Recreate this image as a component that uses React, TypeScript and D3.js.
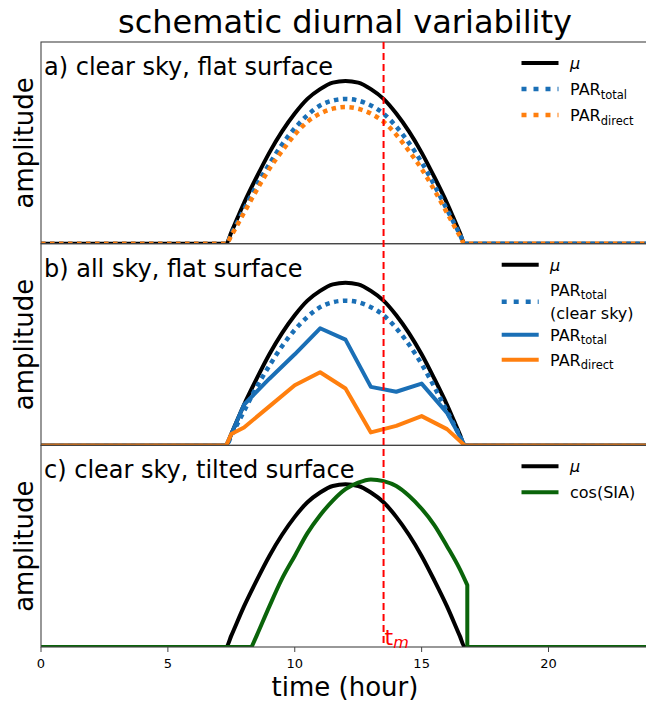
import React from "react";
import * as d3 from "d3";

// time axis (hours) for the smooth clear-sky curves
const hours = [0, 7.3, 7.5, 8, 8.5, 9, 9.5, 10, 10.5, 11, 11.5, 12, 12.5, 13, 13.5, 14, 14.5, 15, 15.5, 16, 16.5, 16.7, 24];
const mu = [0, 0, 0.07, 0.25, 0.41, 0.56, 0.69, 0.8, 0.89, 0.95, 0.99, 1.0, 0.99, 0.95, 0.89, 0.8, 0.69, 0.56, 0.41, 0.25, 0.07, 0, 0];
const parTotalClear = [0, 0, 0.06, 0.21, 0.36, 0.49, 0.61, 0.71, 0.79, 0.85, 0.88, 0.89, 0.88, 0.85, 0.8, 0.72, 0.62, 0.5, 0.36, 0.21, 0.06, 0, 0];
const parDirectClear = [0, 0, 0.05, 0.19, 0.33, 0.46, 0.57, 0.67, 0.75, 0.8, 0.83, 0.84, 0.83, 0.8, 0.75, 0.67, 0.57, 0.46, 0.33, 0.19, 0.05, 0, 0];

// all-sky (hourly) values
const hoursAll = [0, 7.3, 7.5, 8, 9, 10, 11, 12, 13, 14, 15, 16, 16.7, 24];
const parTotalAll = [0, 0, 0.07, 0.25, 0.41, 0.56, 0.72, 0.65, 0.36, 0.33, 0.38, 0.2, 0, 0];
const parDirectAll = [0, 0, 0.07, 0.11, 0.24, 0.37, 0.45, 0.35, 0.08, 0.12, 0.18, 0.1, 0, 0];

// tilted surface, cosine of the solar incidence angle (daytime part)
const siaHours = [8.3, 8.5, 9, 9.5, 10, 10.5, 11, 11.5, 12, 12.5, 13, 13.5, 14, 14.5, 15, 15.5, 16, 16.5, 16.8];
const cosSia = [0, 0.07, 0.25, 0.42, 0.56, 0.7, 0.81, 0.9, 0.97, 1.01, 1.03, 1.02, 0.99, 0.93, 0.85, 0.75, 0.62, 0.48, 0.38];

const xTicks = [0, 5, 10, 15, 20];
const tMarker = 13.5;
const panelTitles = ["a) clear sky, flat surface", "b) all sky, flat surface", "c) clear sky, tilted surface"];

const BLUE = "#1a6fb6";
const ORANGE = "#ff7f0e";
const GREEN = "#0a640a";
const FONT = "DejaVu Sans";

const W = 646;
const H = 703;

export default function App() {
  const x = d3.scaleLinear().domain([0, 24]).range([41, 650]);
  const tops = [42, 243.7, 445.3];
  const ph = 201.7;
  const ys = tops.map((t) => d3.scaleLinear().domain([0, 1.24]).range([t + ph, t]));

  const smooth = (ts: number[], vs: number[], y: d3.ScaleLinear<number, number>) =>
    d3.line<number>().x((_, i) => x(ts[i])).y((d) => y(d)).curve(d3.curveMonotoneX)(vs) as string;
  const linear = (ts: number[], vs: number[], y: d3.ScaleLinear<number, number>) =>
    d3.line<number>().x((_, i) => x(ts[i])).y((d) => y(d))(vs) as string;

  const yc = ys[2];
  const siaArc = smooth(siaHours, cosSia, yc);
  const siaPath =
    `M${x(0)},${yc(0)}L` + siaArc.slice(1) +
    `L${x(siaHours[siaHours.length - 1])},${yc(0)}L${x(24)},${yc(0)}`;

  const dotted = "4.5,4.5";

  const legendRow = (key: string, lx: number, ly: number, color: string, dash: string | undefined, label: React.ReactNode) => (
    <g key={key}>
      <line x1={lx} x2={lx + 37} y1={ly} y2={ly} stroke={color} strokeWidth={dash ? 4.5 : 4} strokeDasharray={dash} />
      {label}
    </g>
  );
  const sub = (main: string, s: string, tx: number, ty: number) => (
    <text x={tx} y={ty} fontSize={16} fontFamily={FONT} fill="#000">
      {main}
      <tspan fontSize={11.5} dy={3.5}>{s}</tspan>
    </text>
  );
  const muLabel = (tx: number, ty: number) => (
    <text x={tx} y={ty} fontSize={16} fontFamily={FONT} fontStyle="italic" fill="#000">μ</text>
  );

  return (
    <svg width={W} height={H} style={{ position: "absolute", left: 0, top: 0, background: "#fff" }}>
      <defs>
        {tops.map((t, i) => (
          <clipPath id={`clip${i}`} key={i}>
            <rect x={x(0)} y={t} width={x(24) - x(0)} height={ph} />
          </clipPath>
        ))}
      </defs>

      <text x={345} y={33} textAnchor="middle" fontSize={32} fontFamily={FONT} fill="#000">
        schematic diurnal variability
      </text>

      {/* panel a */}
      <g clipPath="url(#clip0)" fill="none">
        <path d={smooth(hours, mu, ys[0])} stroke="#000" strokeWidth={4} />
        <path d={smooth(hours, parTotalClear, ys[0])} stroke={BLUE} strokeWidth={4.5} strokeDasharray={dotted} />
        <path d={smooth(hours, parDirectClear, ys[0])} stroke={ORANGE} strokeWidth={4.5} strokeDasharray={dotted} />
      </g>

      {/* panel b */}
      <g clipPath="url(#clip1)" fill="none">
        <path d={smooth(hours, mu, ys[1])} stroke="#000" strokeWidth={4} />
        <path d={smooth(hours, parTotalClear, ys[1])} stroke={BLUE} strokeWidth={4.5} strokeDasharray={dotted} />
        <path d={linear(hoursAll, parTotalAll, ys[1])} stroke={BLUE} strokeWidth={4} strokeLinejoin="round" />
        <path d={linear(hoursAll, parDirectAll, ys[1])} stroke={ORANGE} strokeWidth={4} strokeLinejoin="round" />
      </g>

      {/* panel c */}
      <g clipPath="url(#clip2)" fill="none">
        <path d={smooth(hours, mu, ys[2])} stroke="#000" strokeWidth={4} />
        <path d={siaPath} stroke={GREEN} strokeWidth={4} strokeLinejoin="round" />
      </g>

      {/* frames */}
      {tops.map((t, i) => (
        <rect key={i} x={x(0)} y={t} width={x(24) - x(0)} height={ph} fill="none" stroke="#444" strokeWidth={1.1} />
      ))}

      {/* panel titles and y labels */}
      {tops.map((t, i) => (
        <g key={`lab${i}`}>
          <text x={44} y={t + 33} fontSize={24} fontFamily={FONT} fill="#000">{panelTitles[i]}</text>
          <text
            transform={`translate(33,${t + ph / 2}) rotate(-90)`}
            textAnchor="middle"
            fontSize={26}
            fontFamily={FONT}
            fill="#000"
          >
            amplitude
          </text>
        </g>
      ))}

      {/* legends */}
      <g>
        {legendRow("a1", 521.5, tops[0] + 21, "#000", undefined, muLabel(570, tops[0] + 27))}
        {legendRow("a2", 521.5, tops[0] + 47, BLUE, "5,7", sub("PAR", "total", 570, tops[0] + 53))}
        {legendRow("a3", 521.5, tops[0] + 73, ORANGE, "5,7", sub("PAR", "direct", 570, tops[0] + 79))}

        {legendRow("b1", 501.7, tops[1] + 21, "#000", undefined, muLabel(550, tops[1] + 27))}
        {legendRow("b2", 501.7, tops[1] + 58, BLUE, "5,7", (
          <g>
            {sub("PAR", "total", 550, tops[1] + 52)}
            <text x={550} y={tops[1] + 75} fontSize={16} fontFamily={FONT} fill="#000">(clear sky)</text>
          </g>
        ))}
        {legendRow("b3", 501.7, tops[1] + 91, BLUE, undefined, sub("PAR", "total", 550, tops[1] + 97))}
        {legendRow("b4", 501.7, tops[1] + 116, ORANGE, undefined, sub("PAR", "direct", 550, tops[1] + 122))}

        {legendRow("c1", 521.5, tops[2] + 21, "#000", undefined, muLabel(570, tops[2] + 27))}
        {legendRow("c2", 521.5, tops[2] + 47, GREEN, undefined, (
          <text x={570} y={tops[2] + 53} fontSize={16} fontFamily={FONT} fill="#000">cos(SIA)</text>
        ))}
      </g>

      {/* t_m marker */}
      <line x1={x(tMarker)} x2={x(tMarker)} y1={tops[0]} y2={tops[2] + ph} stroke="#ff0000" strokeWidth={2} strokeDasharray="7,4" />
      <text x={x(tMarker) + 1} y={tops[2] + ph - 2} fontSize={22} fontFamily={FONT} fill="#ff0000">
        t<tspan fontSize={16} fontStyle="italic" dy={3}>m</tspan>
      </text>

      {/* x axis */}
      <g>
        {xTicks.map((v) => (
          <g key={v} transform={`translate(${x(v)},${tops[2] + ph})`}>
            <line y1={0} y2={5} stroke="#444" strokeWidth={1} />
            <text y={21} textAnchor="middle" fontSize={13} fontFamily={FONT} fill="#000">{v}</text>
          </g>
        ))}
        <text x={345} y={696} textAnchor="middle" fontSize={26} fontFamily={FONT} fill="#000">time (hour)</text>
      </g>
    </svg>
  );
}
